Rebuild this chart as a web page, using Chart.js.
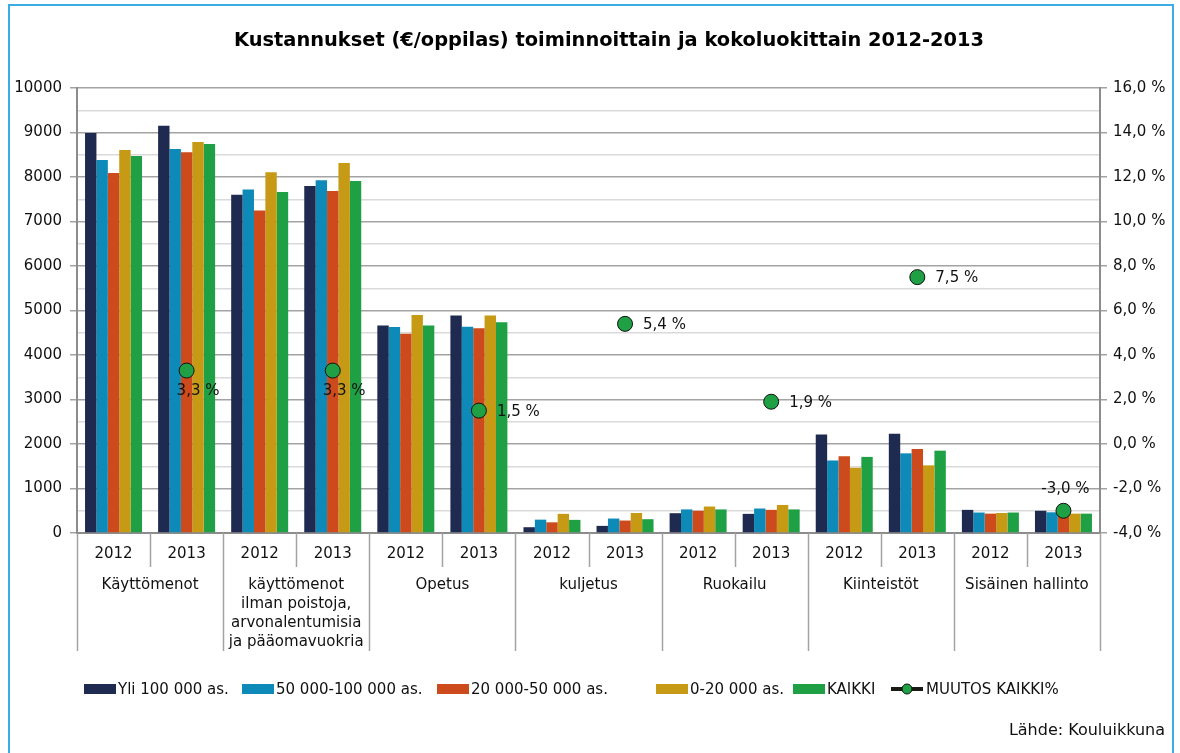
<!DOCTYPE html>
<html>
<head>
<meta charset="utf-8">
<script src="https://cdn.jsdelivr.net/npm/chart.js"></script>
<style>
  html, body { margin: 0; padding: 0; background: #fff; }
  #wrap { position: relative; width: 1180px; height: 753px; }
</style>
</head>
<body>
<div id="wrap"><canvas id="chart" width="1180" height="753"></canvas></div>
<script>
// Kustannukset (€/oppilas) toiminnoittain ja kokoluokittain 2012-2013
const groups = [
    'Käyttömenot',
    ['käyttömenot', 'ilman poistoja,', 'arvonalentumisia', 'ja pääomavuokria'],
    'Opetus',
    'kuljetus',
    'Ruokailu',
    'Kiinteistöt',
    'Sisäinen hallinto'
];
const years = ['2012', '2013'];

// values per group: [2012, 2013, 2012, 2013, ...]
const yli100 = [8990, 9150, 7600, 7800, 4665, 4890, 130, 160, 445, 430, 2215, 2230, 520, 500];
const v50_100 = [8380, 8630, 7720, 7925, 4630, 4635, 300, 325, 530, 550, 1630, 1790, 460, 465];
const v20_50 = [8090, 8555, 7250, 7685, 4480, 4600, 240, 280, 500, 520, 1725, 1890, 435, 440];
const v0_20 = [8605, 8785, 8105, 8315, 4900, 4885, 430, 450, 595, 630, 1465, 1520, 450, 435];
const kaikki = [8470, 8740, 7665, 7910, 4665, 4735, 295, 310, 530, 530, 1710, 1850, 460, 435];
// MUUTOS KAIKKI% (2012 -> 2013), shown at the 2013 column of each group
const muutos = [3.3, 3.3, 1.5, 5.4, 1.9, 7.5, -3.0];
const muutosPos = ['below', 'below', 'right', 'right', 'right', 'right', 'above'];

const seriesNames = ['Yli 100 000 as.', '50 000-100 000 as.', '20 000-50 000 as.', '0-20 000 as.', 'KAIKKI'];
const seriesColors = ['#1f2a50', '#0e8ab8', '#cc4a1b', '#c69a14', '#1fa045'];
const lineName = 'MUUTOS KAIKKI%';

const FONT = "'DejaVu Sans', Verdana, sans-serif";
const GRID_MAJOR = '#a3a3a3';
const GRID_MINOR = '#dadada';
const LEGEND_X = [84, 242, 437, 656, 793, 891];

const labels = [];
groups.forEach(() => years.forEach(y => labels.push(y)));

const muutosData = [];
muutos.forEach(v => { muutosData.push(null); muutosData.push(v); });

const barSets = [yli100, v50_100, v20_50, v0_20, kaikki].map((d, i) => ({
    type: 'bar',
    label: seriesNames[i],
    data: d,
    backgroundColor: seriesColors[i],
    borderWidth: 0,
    yAxisID: 'y',
    order: 1,
    barPercentage: 1.0,
    categoryPercentage: 0.78
}));

const lineSet = {
    type: 'line',
    label: lineName,
    data: muutosData,
    yAxisID: 'y2',
    order: 0,
    borderColor: '#111',
    borderWidth: 2,
    pointRadius: 7.5,
    pointBackgroundColor: '#1fa045',
    pointBorderColor: '#111',
    pointBorderWidth: 1,
    spanGaps: false
};

function fmtPct(v) {
    return v.toFixed(1).replace('.', ',') + ' %';
}

// title, group labels, separators, point labels, legend, source, frame
const decorations = {
    id: 'decorations',
    afterDraw(chart) {
        const ctx = chart.ctx;
        const area = chart.chartArea;
        const xs = chart.scales.x;
        const step = (area.right - area.left) / labels.length;
        ctx.save();

        // outer frame
        ctx.strokeStyle = '#3aaee4';
        ctx.lineWidth = 2;
        ctx.strokeRect(9, 5, 1164, 760);

        // title
        ctx.fillStyle = '#000';
        ctx.font = 'bold 19.4px ' + FONT;
        ctx.textAlign = 'center';
        ctx.textBaseline = 'middle';
        ctx.fillText('Kustannukset (€/oppilas) toiminnoittain ja kokoluokittain 2012-2013', 609, 41);

        // category separators
        ctx.strokeStyle = '#a3a3a3';
        ctx.lineWidth = 1.5;
        for (let i = 0; i <= labels.length; i++) {
            const x = Math.round(area.left + i * step) + 0.5;
            ctx.beginPath();
            ctx.moveTo(x, area.bottom);
            ctx.lineTo(x, i % 2 === 0 ? 651 : 567);
            ctx.stroke();
        }

        // group names
        ctx.fillStyle = '#111';
        ctx.font = '15px ' + FONT;
        groups.forEach((g, gi) => {
            const cx = (xs.getPixelForValue(gi * 2) + xs.getPixelForValue(gi * 2 + 1)) / 2;
            const lines = Array.isArray(g) ? g : [g];
            lines.forEach((t, li) => ctx.fillText(t, cx, 585 + li * 19));
        });

        // point labels
        const li = chart.data.datasets.length - 1;
        const meta = chart.getDatasetMeta(li);
        let k = 0;
        meta.data.forEach((pt, idx) => {
            const v = chart.data.datasets[li].data[idx];
            if (v === null) return;
            const pos = muutosPos[k++];
            const txt = fmtPct(v);
            if (pos === 'below') {
                ctx.textAlign = 'left';
                ctx.fillText(txt, pt.x - 10, pt.y + 21);
            } else if (pos === 'above') {
                ctx.textAlign = 'center';
                ctx.fillText(txt, pt.x + 2, pt.y - 22);
            } else {
                ctx.textAlign = 'left';
                ctx.fillText(txt, pt.x + 18, pt.y + 1);
            }
        });

        // legend
        ctx.textAlign = 'left';
        ctx.font = '15px ' + FONT;
        const ly = 689;
        seriesNames.forEach((n, i) => {
            const lx = LEGEND_X[i];
            ctx.fillStyle = seriesColors[i];
            ctx.fillRect(lx, ly - 5, 32, 10);
            ctx.fillStyle = '#111';
            ctx.fillText(n, lx + 34, ly + 1);
        });
        const lx = LEGEND_X[5];
        ctx.strokeStyle = '#1a1a14';
        ctx.lineWidth = 4;
        ctx.beginPath();
        ctx.moveTo(lx, ly);
        ctx.lineTo(lx + 32, ly);
        ctx.stroke();
        ctx.beginPath();
        ctx.arc(lx + 16, ly, 5, 0, Math.PI * 2);
        ctx.fillStyle = '#1fa045';
        ctx.fill();
        ctx.lineWidth = 1;
        ctx.strokeStyle = '#111';
        ctx.stroke();
        ctx.fillStyle = '#111';
        ctx.fillText(lineName, lx + 35, ly + 1);

        // source
        ctx.textAlign = 'right';
        ctx.font = '16px ' + FONT;
        ctx.fillText('Lähde: Kouluikkuna', 1165, 731);

        ctx.restore();
    }
};

new Chart(document.getElementById('chart'), {
    data: {
        labels: labels,
        datasets: [...barSets, lineSet]
    },
    options: {
        responsive: false,
        animation: false,
        layout: { padding: { top: 88, left: 0, right: 0, bottom: 0 } },
        plugins: {
            legend: { display: false },
            title: { display: false },
            tooltip: { enabled: false }
        },
        scales: {
            x: {
                offset: true,
                grid: { display: true, drawOnChartArea: false, drawTicks: false },
                border: { display: true, color: '#8c8c8c', width: 2 },
                ticks: { color: '#111', font: { family: FONT, size: 15 }, padding: 12, maxRotation: 0, autoSkip: false },
                afterFit(scale) { scale.height = 220; }
            },
            y: {
                position: 'left',
                min: 0,
                max: 10000,
                ticks: {
                    stepSize: 500,
                    color: '#111',
                    padding: 8,
                    font: { family: FONT, size: 15 },
                    callback: v => (v % 1000 === 0 ? String(v) : '')
                },
                grid: {
                    color: c => (c.tick && c.tick.value % 1000 === 0 ? GRID_MAJOR : GRID_MINOR),
                    lineWidth: 1.5,
                    tickLength: 7,
                    tickColor: c => (c.tick && c.tick.value % 1000 === 0 ? GRID_MAJOR : 'rgba(0,0,0,0)')
                },
                border: { display: true, color: '#8c8c8c', width: 2 },
                afterFit(scale) { scale.width = 77; }
            },
            y2: {
                position: 'right',
                min: -4,
                max: 16,
                ticks: {
                    stepSize: 2,
                    color: '#111',
                    padding: 6,
                    font: { family: FONT, size: 15 },
                    callback: v => fmtPct(v)
                },
                grid: { drawOnChartArea: false, tickLength: 7, color: GRID_MAJOR, lineWidth: 1.5 },
                border: { display: true, color: '#8c8c8c', width: 2 },
                afterFit(scale) { scale.width = 80; }
            }
        }
    },
    plugins: [decorations]
});
</script>
</body>
</html>
